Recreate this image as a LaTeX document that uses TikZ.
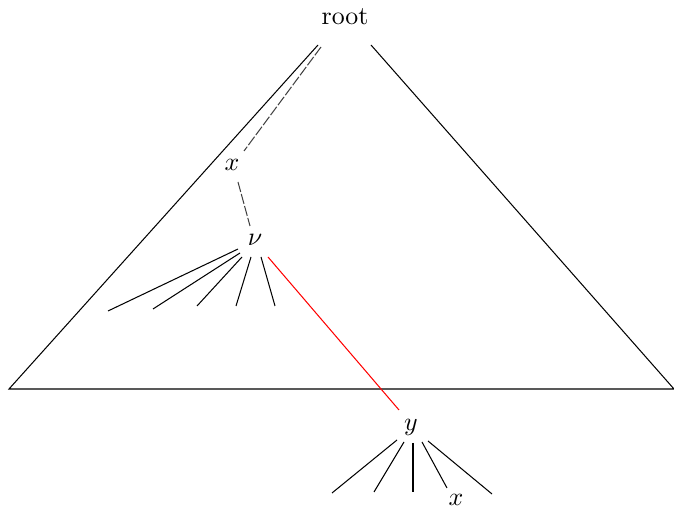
\documentclass[tikz,border=0pt]{standalone}
\begin{document}
\begin{tikzpicture}[x=0.387pt,y=-0.387pt,
  lbl/.style={inner sep=0pt},
  edge/.style={black, line width=0.4pt},
  pathedge/.style={black!75, line width=0.4pt, dash pattern=on 4pt off 0.8pt},
  redge/.style={red, line width=0.4pt}]
\useasboundingbox (0,0) rectangle (674,507);
\node[lbl] (root) at (345,17) {root};
\node[lbl] (x) at (232,165) {$x$};
\node[lbl] (nu) at (255,240) {$\nu$};
\node[lbl] (y) at (411,427) {$y$};
\node[lbl] (x2) at (456,500) {$x$};
% triangle
\coordinate (tl) at (318,45);
\coordinate (tr) at (371,45);
\coordinate (bl) at (9,389);
\coordinate (br) at (674,389);
\draw[edge] (tl) -- (bl) -- (br) -- (tr);
% path root -> x -> nu
\coordinate (r1) at (321,47);
\coordinate (x1) at (244,151);
\coordinate (x3) at (238,182);
\coordinate (n0) at (250,226);
\draw[pathedge] (r1) -- (x1);
\draw[pathedge] (x3) -- (n0);
% children of nu
\coordinate (a1) at (238,249); \coordinate (b1) at (108,311);
\coordinate (a2) at (240,253); \coordinate (b2) at (153,309);
\coordinate (a3) at (242,257); \coordinate (b3) at (197,306);
\coordinate (a4) at (251,257); \coordinate (b4) at (236,306);
\coordinate (a5) at (261,257); \coordinate (b5) at (275,306);
\foreach \i in {1,...,5} \draw[edge] (a\i) -- (b\i);
% red edge
\coordinate (ra) at (268,257);
\coordinate (rb) at (399,410);
\draw[redge] (ra) -- (rb);
% children of y
\coordinate (c1) at (397,440); \coordinate (d1) at (332,493);
\coordinate (c2) at (404,442); \coordinate (d2) at (374,492);
\coordinate (c3) at (413,443); \coordinate (d3) at (413,492);
\coordinate (c4) at (422,442); \coordinate (d4) at (447,488);
\coordinate (c5) at (428,441); \coordinate (d5) at (492,494);
\foreach \i in {1,...,5} \draw[edge] (c\i) -- (d\i);
\end{tikzpicture}
\end{document}
